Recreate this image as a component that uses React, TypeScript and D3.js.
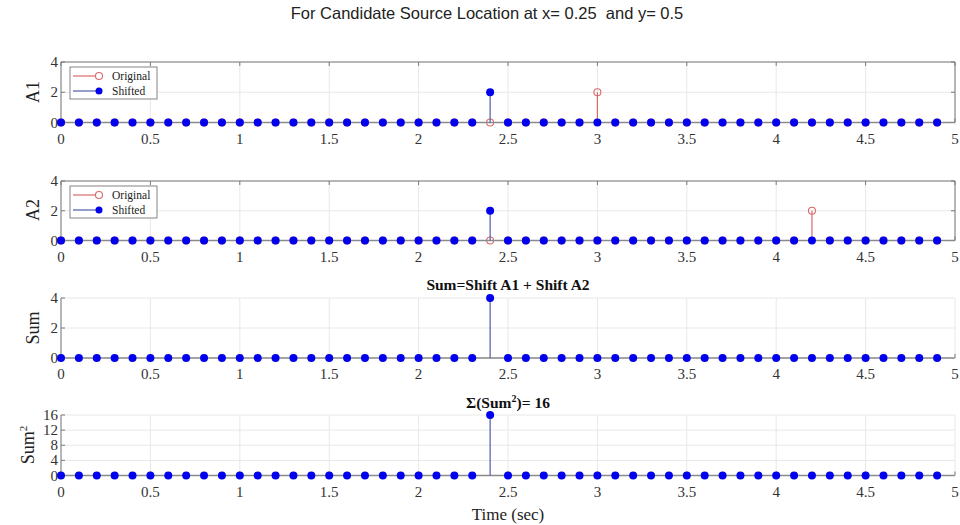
import React from "react";
import * as d3 from "d3";

// Sample times (sec)
const times = [
  0, 0.1, 0.2, 0.3, 0.4, 0.5, 0.6, 0.7, 0.8, 0.9,
  1, 1.1, 1.2, 1.3, 1.4, 1.5, 1.6, 1.7, 1.8, 1.9,
  2, 2.1, 2.2, 2.3, 2.4, 2.5, 2.6, 2.7, 2.8, 2.9,
  3, 3.1, 3.2, 3.3, 3.4, 3.5, 3.6, 3.7, 3.8, 3.9,
  4, 4.1, 4.2, 4.3, 4.4, 4.5, 4.6, 4.7, 4.8, 4.9,
];

// Signal values, one per sample time
const a1Original = [
  0, 0, 0, 0, 0, 0, 0, 0, 0, 0,
  0, 0, 0, 0, 0, 0, 0, 0, 0, 0,
  0, 0, 0, 0, 0, 0, 0, 0, 0, 0,
  2, 0, 0, 0, 0, 0, 0, 0, 0, 0,
  0, 0, 0, 0, 0, 0, 0, 0, 0, 0,
];
const a1Shifted = [
  0, 0, 0, 0, 0, 0, 0, 0, 0, 0,
  0, 0, 0, 0, 0, 0, 0, 0, 0, 0,
  0, 0, 0, 0, 2, 0, 0, 0, 0, 0,
  0, 0, 0, 0, 0, 0, 0, 0, 0, 0,
  0, 0, 0, 0, 0, 0, 0, 0, 0, 0,
];
const a2Original = [
  0, 0, 0, 0, 0, 0, 0, 0, 0, 0,
  0, 0, 0, 0, 0, 0, 0, 0, 0, 0,
  0, 0, 0, 0, 0, 0, 0, 0, 0, 0,
  0, 0, 0, 0, 0, 0, 0, 0, 0, 0,
  0, 0, 2, 0, 0, 0, 0, 0, 0, 0,
];
const a2Shifted = [
  0, 0, 0, 0, 0, 0, 0, 0, 0, 0,
  0, 0, 0, 0, 0, 0, 0, 0, 0, 0,
  0, 0, 0, 0, 2, 0, 0, 0, 0, 0,
  0, 0, 0, 0, 0, 0, 0, 0, 0, 0,
  0, 0, 0, 0, 0, 0, 0, 0, 0, 0,
];
const sumValues = [
  0, 0, 0, 0, 0, 0, 0, 0, 0, 0,
  0, 0, 0, 0, 0, 0, 0, 0, 0, 0,
  0, 0, 0, 0, 4, 0, 0, 0, 0, 0,
  0, 0, 0, 0, 0, 0, 0, 0, 0, 0,
  0, 0, 0, 0, 0, 0, 0, 0, 0, 0,
];
const sumSquared = [
  0, 0, 0, 0, 0, 0, 0, 0, 0, 0,
  0, 0, 0, 0, 0, 0, 0, 0, 0, 0,
  0, 0, 0, 0, 16, 0, 0, 0, 0, 0,
  0, 0, 0, 0, 0, 0, 0, 0, 0, 0,
  0, 0, 0, 0, 0, 0, 0, 0, 0, 0,
];

const xTicks = [0, 0.5, 1, 1.5, 2, 2.5, 3, 3.5, 4, 4.5, 5];
const yTicksSmall = [0, 2, 4];
const yTicksSquared = [0, 4, 8, 12, 16];

const chartTitle = "For Candidate Source Location at x= 0.25  and y= 0.5";
const sumTitle = "Sum=Shift A1 + Shift A2";
const legendLabels = ["Original", "Shifted"];

const W = 960;
const H = 525;
const left = 61;
const right = 955;
const serif = "'Liberation Serif', 'Times New Roman', serif";
const sans = "'Liberation Sans', Arial, sans-serif";

const BLUE = "#0000ee";
const BLUE_STEM = "#4f5ca8";
const RED = "#d86a6a";
const AXIS = "#7a7a7a";
const GRID = "#e8e8e8";

const x = d3.scaleLinear().domain([0, 5]).range([left, right]);

type PanelProps = {
  top: number;
  bottom: number;
  yMax: number;
  yTicks: number[];
  box: boolean;
  original?: number[];
  shifted: number[];
  legend?: boolean;
};

function Panel({ top, bottom, yMax, yTicks, box, original, shifted, legend }: PanelProps) {
  const y = d3.scaleLinear().domain([0, yMax]).range([bottom, top]);
  const tickLen = 4;
  return (
    <g>
      {/* grid */}
      {xTicks.map((t) => (
        <line key={"gx" + t} x1={x(t)} x2={x(t)} y1={top} y2={bottom} stroke={GRID} strokeWidth={1} />
      ))}
      {yTicks.map((t) => (
        <line key={"gy" + t} x1={left} x2={right} y1={y(t)} y2={y(t)} stroke={GRID} strokeWidth={1} />
      ))}

      {/* axes */}
      <line x1={left} x2={left} y1={top} y2={bottom} stroke={AXIS} strokeWidth={1} />
      {box && (
        <>
          <line x1={left} x2={right} y1={top} y2={top} stroke={AXIS} strokeWidth={1} />
          <line x1={right} x2={right} y1={top} y2={bottom} stroke={AXIS} strokeWidth={1} />
        </>
      )}
      {xTicks.map((t) => (
        <g key={"tx" + t}>
          <line x1={x(t)} x2={x(t)} y1={bottom} y2={bottom - tickLen} stroke={AXIS} />
          {box && <line x1={x(t)} x2={x(t)} y1={top} y2={top + tickLen} stroke={AXIS} />}
          <text
            x={x(t)}
            y={bottom + 21}
            textAnchor="middle"
            fontFamily={serif}
            fontSize={15}
            fill="#333"
          >
            {t}
          </text>
        </g>
      ))}
      {yTicks.map((t) => (
        <g key={"ty" + t}>
          <line x1={left} x2={left + tickLen} y1={y(t)} y2={y(t)} stroke={AXIS} />
          {box && <line x1={right} x2={right - tickLen} y1={y(t)} y2={y(t)} stroke={AXIS} />}
          <text
            x={left - 3}
            y={y(t) + 5}
            textAnchor="end"
            fontFamily={serif}
            fontSize={15}
            fill="#333"
          >
            {t}
          </text>
        </g>
      ))}

      {/* original stems */}
      {original &&
        original.map((v, i) => (
          <g key={"o" + i}>
            {v !== 0 && (
              <line x1={x(times[i])} x2={x(times[i])} y1={y(0)} y2={y(v)} stroke={RED} strokeWidth={1.2} />
            )}
            <circle cx={x(times[i])} cy={y(v)} r={3.5} fill="none" stroke={RED} strokeWidth={1.1} />
          </g>
        ))}

      {/* baseline */}
      <line x1={left} x2={right} y1={y(0)} y2={y(0)} stroke="#8a8a8a" strokeWidth={1.6} />

      {/* shifted stems */}
      {shifted.map((v, i) =>
        v !== 0 ? (
          <line
            key={"sl" + i}
            x1={x(times[i])}
            x2={x(times[i])}
            y1={y(0)}
            y2={y(v)}
            stroke={BLUE_STEM}
            strokeWidth={1.2}
          />
        ) : null
      )}
      {shifted.map((v, i) => (
        <circle key={"sd" + i} cx={x(times[i])} cy={y(v)} r={4} fill={BLUE} />
      ))}

      {legend && (
        <g>
          <rect x={70} y={top + 5} width={87} height={32} fill="white" stroke="#666" strokeWidth={0.8} />
          <line x1={73} x2={99} y1={top + 14} y2={top + 14} stroke={RED} strokeWidth={1.2} />
          <circle cx={99} cy={top + 14} r={3.5} fill="white" stroke={RED} strokeWidth={1.1} />
          <text x={112} y={top + 18} fontFamily={serif} fontSize={11.5} fill="#222">
            {legendLabels[0]}
          </text>
          <line x1={73} x2={99} y1={top + 29} y2={top + 29} stroke={BLUE_STEM} strokeWidth={1.2} />
          <circle cx={99} cy={top + 29} r={3.5} fill={BLUE} />
          <text x={112} y={top + 33} fontFamily={serif} fontSize={11.5} fill="#222">
            {legendLabels[1]}
          </text>
        </g>
      )}
    </g>
  );
}

function YLabel({ cx, cy, children }: { cx: number; cy: number; children: React.ReactNode }) {
  return (
    <text
      transform={`translate(${cx},${cy}) rotate(-90)`}
      textAnchor="middle"
      fontFamily={serif}
      fontSize={18}
      fill="#222"
    >
      {children}
    </text>
  );
}

export default function App() {
  return (
    <svg width={W} height={H} style={{ position: "absolute", left: 0, top: 0, background: "white" }}>
      <rect width={W} height={H} fill="white" />
      <text
        x={487}
        y={19}
        textAnchor="middle"
        fontFamily={sans}
        fontSize={16.5}
        fill="#222"
        style={{ whiteSpace: "pre" }}
      >
        {chartTitle}
      </text>

      <Panel top={62} bottom={122.5} yMax={4} yTicks={yTicksSmall} box original={a1Original} shifted={a1Shifted} legend />
      <YLabel cx={39} cy={92}>A1</YLabel>

      <Panel top={181} bottom={240.5} yMax={4} yTicks={yTicksSmall} box original={a2Original} shifted={a2Shifted} legend />
      <YLabel cx={39} cy={210}>A2</YLabel>

      <text x={508} y={290} textAnchor="middle" fontFamily={serif} fontWeight="bold" fontSize={15.5} fill="#111">
        {sumTitle}
      </text>
      <Panel top={298} bottom={358} yMax={4} yTicks={yTicksSmall} box={false} shifted={sumValues} />
      <YLabel cx={39} cy={328}>Sum</YLabel>

      <text x={508} y={408} textAnchor="middle" fontFamily={serif} fontWeight="bold" fontSize={15.5} fill="#111">
        Σ(Sum<tspan dy={-6} fontSize={10}>2</tspan>
        <tspan dy={6}>)= 16</tspan>
      </text>
      <Panel top={415} bottom={475.5} yMax={16} yTicks={yTicksSquared} box={false} shifted={sumSquared} />
      <text
        transform="translate(34,445) rotate(-90)"
        textAnchor="middle"
        fontFamily={serif}
        fontSize={18}
        fill="#222"
      >
        Sum<tspan dy={-7} fontSize={11}>2</tspan>
      </text>

      <text x={508} y={520} textAnchor="middle" fontFamily={serif} fontSize={17} fill="#222">
        Time (sec)
      </text>
    </svg>
  );
}
